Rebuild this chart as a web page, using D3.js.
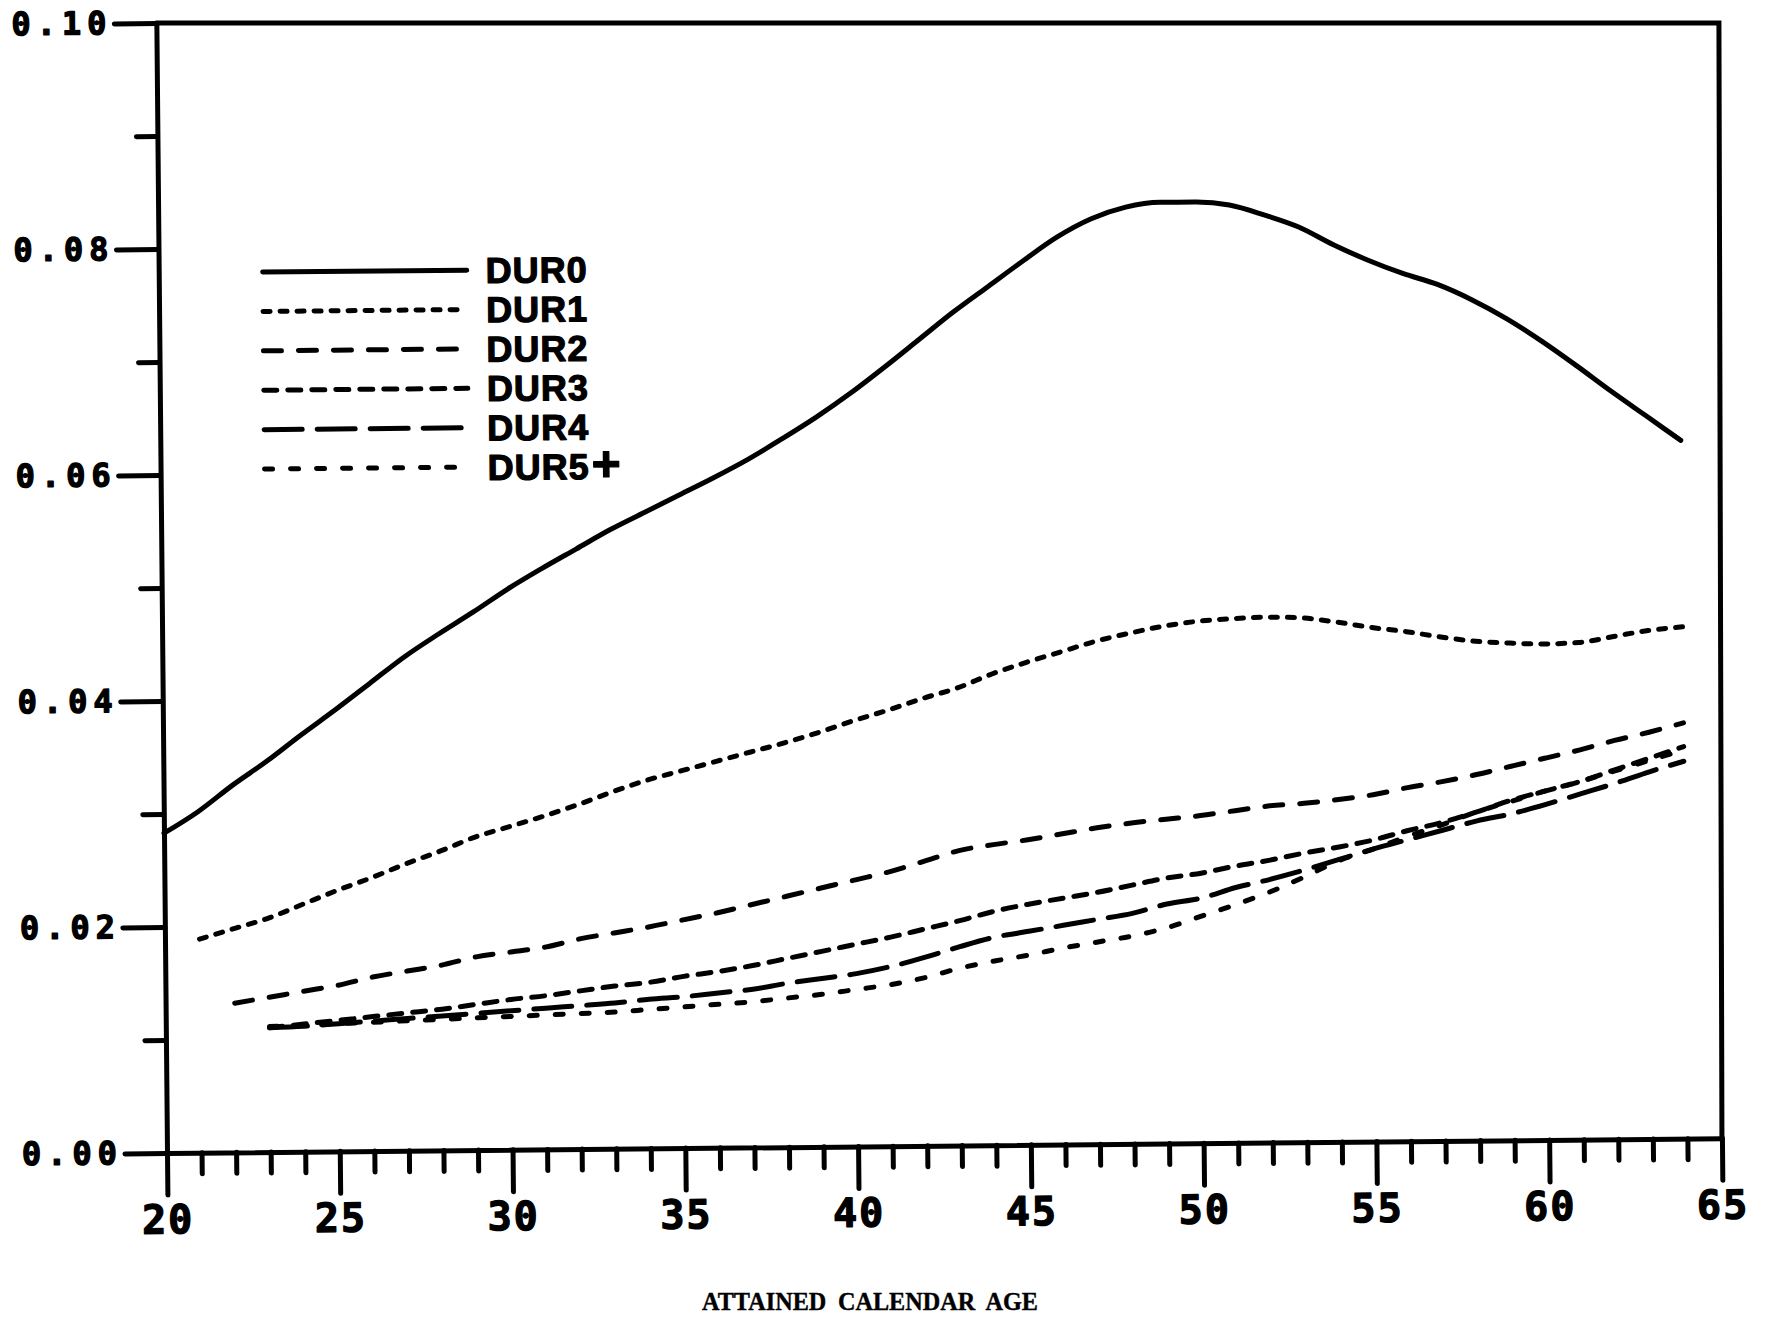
<!DOCTYPE html>
<html>
<head>
<meta charset="utf-8">
<script src="https://cdn.jsdelivr.net/npm/d3@7"></script>
<style>
body { margin: 0; background: #fff; }
svg { display: block; }
</style>
</head>
<body>
<div id="chart"></div>
<script>
// attained age (years) on x, rate on y
var ages = [20,21,22,23,24,25,26,27,28,29,30,31,32,33,34,35,36,37,38,39,40,41,42,
            43,44,45,46,47,48,49,50,51,52,53,54,55,56,57,58,59,60,61,62,63,64];

var seriesNames = ['DUR0', 'DUR1', 'DUR2', 'DUR3', 'DUR4', 'DUR5+'];
var seriesStart = [20, 21, 22, 23, 23, 23];

var dur0 = [0.0283,0.0302,0.0325,0.0346,0.0369,0.0391,0.0414,0.0437,0.0457,0.0476,
            0.0496,0.0514,0.0531,0.0548,0.0563,0.0578,0.0593,0.0609,0.0627,0.0646,
            0.0667,0.0690,0.0714,0.0738,0.0760,0.0782,0.0803,0.0819,0.0829,0.0833,
            0.0833,0.0830,0.0821,0.0810,0.0794,0.0780,0.0768,0.0758,0.0744,0.0727,
            0.0707,0.0685,0.0662,0.0640,0.0618];
var dur1 = [0.0189,0.0198,0.0207,0.0219,0.0231,0.0242,0.0254,0.0265,0.0277,
            0.0286,0.0295,0.0305,0.0316,0.0326,0.0334,0.0342,0.0350,0.0358,0.0367,
            0.0377,0.0386,0.0396,0.0405,0.0417,0.0427,0.0436,0.0445,0.0452,0.0458,
            0.0462,0.0464,0.0465,0.0464,0.0460,0.0455,0.0451,0.0446,0.0442,0.0440,
            0.0439,0.0440,0.0445,0.0450,0.0453];
var dur2 = [0.0132,0.0137,0.0142,0.0147,0.0154,0.0159,0.0164,0.0171,
            0.0175,0.0179,0.0186,0.0191,0.0196,0.0202,0.0208,0.0215,0.0222,0.0229,
            0.0236,0.0243,0.0252,0.0261,0.0266,0.0270,0.0275,0.0280,0.0284,0.0287,
            0.0290,0.0294,0.0298,0.0300,0.0303,0.0307,0.0313,0.0318,0.0324,0.0331,
            0.0338,0.0345,0.0353,0.0360,0.0368];
var dur3 = [0.0110,0.0113,0.0116,0.0119,0.0122,0.0125,0.0129,
            0.0133,0.0136,0.0140,0.0144,0.0147,0.0152,0.0156,0.0161,0.0167,0.0173,
            0.0179,0.0185,0.0192,0.0199,0.0207,0.0213,0.0218,0.0223,0.0229,0.0235,
            0.0239,0.0245,0.0250,0.0256,0.0261,0.0267,0.0275,0.0282,0.0291,0.0301,
            0.0309,0.0317,0.0327,0.0337,0.0347];
var dur4 = [0.0110,0.0111,0.0113,0.0115,0.0117,0.0119,0.0121,
            0.0123,0.0125,0.0127,0.0129,0.0132,0.0134,0.0137,0.0140,0.0145,0.0149,
            0.0153,0.0159,0.0167,0.0176,0.0184,0.0189,0.0194,0.0199,0.0204,0.0212,
            0.0217,0.0226,0.0233,0.0241,0.0250,0.0259,0.0267,0.0275,0.0283,0.0289,
            0.0297,0.0306,0.0315,0.0325,0.0334];
var dur5 = [0.0111,0.0112,0.0113,0.0114,0.0115,0.0116,0.0117,
            0.0118,0.0119,0.0120,0.0121,0.0123,0.0125,0.0127,0.0129,0.0132,0.0135,
            0.0139,0.0143,0.0149,0.0157,0.0163,0.0168,0.0174,0.0179,0.0184,0.0191,
            0.0201,0.0211,0.0222,0.0235,0.0249,0.0259,0.0270,0.0280,0.0291,0.0300,
            0.0309,0.0317,0.0326,0.0335,0.0344];

var yTicks = [0, 0.02, 0.04, 0.06, 0.08, 0.10];
var yMinorTicks = [0.01, 0.03, 0.05, 0.07, 0.09];
var xTicks = [20, 25, 30, 35, 40, 45, 50, 55, 60, 65];
var xMinorTicks = [21,22,23,24,26,27,28,29,31,32,33,34,36,37,38,39,41,42,43,44,
                   46,47,48,49,51,52,53,54,56,57,58,59,61,62,63,64];
var xTitle = 'ATTAINED CALENDAR AGE';

var width = 1767,
    height = 1317,
    tilt = -0.54,   // the scanned page is a little rotated
    ink = '#000',
    pen = 5,
    dashes = ['none', '7,10', '18,17', '13,11', '38,15', '8,18'],

    xScale = d3.scaleLinear().domain([20, 65]).range([167, 1722]),
    yScale = d3.scaleLinear().domain([0, 0.10]).range([1153, 23]),

    svg = d3.select('#chart').append('svg')
        .attr('width', width)
        .attr('height', height)
        .attr('viewBox', '0 0 ' + width + ' ' + height);

svg.append('rect').attr('width', width).attr('height', height).attr('fill', '#fff');

var ox = xScale(20), oy = yScale(0);
var plot = svg.append('g')
    .attr('transform', 'rotate(' + tilt + ',' + ox + ',' + oy + ')');

function styleAxis(g, fontSize, spacing) {
    g.attr('font-size', null).attr('font-family', null);
    g.selectAll('line, path')
        .attr('stroke', ink)
        .attr('stroke-width', pen)
        .attr('stroke-linecap', 'round');
    g.selectAll('text')
        .attr('fill', ink)
        .attr('stroke', ink)
        .attr('stroke-width', 1.3)
        .attr('stroke-linejoin', 'round')
        .style('font-family', '"DejaVu Sans Mono", monospace')
        .style('font-weight', 'bold')
        .style('font-size', fontSize + 'px')
        .style('letter-spacing', spacing + 'px');
}

// x axis, minor then major
plot.append('g')
    .attr('transform', 'translate(0,' + oy + ')')
    .call(d3.axisBottom(xScale).tickValues(xMinorTicks).tickSize(21).tickFormat(''))
    .call(function(g){ g.select('.domain').remove(); styleAxis(g, 10, 0); });

plot.append('g')
    .attr('transform', 'translate(0,' + oy + ')')
    .call(d3.axisBottom(xScale).tickValues(xTicks).tickSize(42).tickSizeOuter(0)
        .tickPadding(10).tickFormat(d3.format('d')))
    .call(function(g){ styleAxis(g, 40, 2); });

// y axis
plot.append('g')
    .attr('transform', 'translate(' + ox + ',0)')
    .call(d3.axisLeft(yScale).tickValues(yMinorTicks).tickSize(21).tickFormat(''))
    .call(function(g){ g.select('.domain').remove(); styleAxis(g, 10, 0); });

plot.append('g')
    .attr('transform', 'translate(' + ox + ',0)')
    .call(d3.axisLeft(yScale).tickValues(yTicks).tickSize(42).tickSizeOuter(0)
        .tickPadding(2).tickFormat(d3.format('.2f')))
    .call(function(g){ styleAxis(g, 32, 6); });

// top and right frame lines are square to the page, not to the tilted axes
function rot(px, py) {
    var a = tilt * Math.PI / 180, dx = px - ox, dy = py - oy;
    return [ox + dx * Math.cos(a) - dy * Math.sin(a), oy + dx * Math.sin(a) + dy * Math.cos(a)];
}
var topLeft = rot(xScale(20), yScale(0.10)),
    bottomRight = rot(xScale(65), yScale(0));
svg.append('path')
    .attr('d', 'M' + topLeft + 'L' + (bottomRight[0] - 3) + ',' + topLeft[1] + 'L' + bottomRight)
    .attr('fill', 'none')
    .attr('stroke', ink)
    .attr('stroke-width', pen)
    .attr('stroke-linecap', 'round');

// curves
var allSeries = [dur0, dur1, dur2, dur3, dur4, dur5];
var line = d3.line()
    .x(function(d){ return xScale(d.age); })
    .y(function(d){ return yScale(d.v); })
    .curve(d3.curveMonotoneX);

allSeries.forEach(function(vals, i) {
    var pts = ages.filter(function(a){ return a >= seriesStart[i]; })
        .map(function(a, j){ return {age: a, v: vals[j]}; });
    plot.append('path')
        .datum(pts)
        .attr('d', line)
        .attr('fill', 'none')
        .attr('stroke', ink)
        .attr('stroke-width', pen)
        .attr('stroke-linecap', 'round')
        .attr('stroke-dasharray', dashes[i] === 'none' ? null : dashes[i]);
});

// legend
var legend = plot.append('g').attr('class', 'legend');
seriesNames.forEach(function(name, i) {
    var ly = 273 + i * 39.4;
    legend.append('line')
        .attr('x1', 271).attr('x2', 475)
        .attr('y1', ly).attr('y2', ly)
        .attr('stroke', ink)
        .attr('stroke-width', pen)
        .attr('stroke-linecap', 'round')
        .attr('stroke-dasharray', dashes[i] === 'none' ? null : dashes[i]);
    var t = legend.append('text')
        .attr('x', 494).attr('y', ly)
        .attr('dy', '0.36em')
        .attr('fill', ink)
        .attr('stroke', ink)
        .attr('stroke-width', 1.2)
        .attr('stroke-linejoin', 'round')
        .style('font-family', '"Liberation Sans", Arial, sans-serif')
        .style('font-weight', 'bold')
        .style('font-size', '36px')
        .style('letter-spacing', '1px');
    if (name.slice(-1) === '+') {
        t.append('tspan').text(name.slice(0, -1));
        t.append('tspan').style('font-size', '50px').attr('dx', 2).attr('dy', '0.04em').text('+');
    } else {
        t.text(name);
    }
});

// axis title, typed on the page
svg.append('text')
    .attr('x', 870).attr('y', 1310)
    .attr('text-anchor', 'middle')
    .attr('textLength', 336)
    .attr('lengthAdjust', 'spacingAndGlyphs')
    .attr('fill', ink)
    .attr('stroke', ink)
    .attr('stroke-width', 0.4)
    .style('font-family', '"Liberation Serif", "Times New Roman", serif')
    .style('font-weight', 'bold')
    .style('font-size', '26px')
    .style('word-spacing', '6px')
    .text(xTitle);
</script>
</body>
</html>
